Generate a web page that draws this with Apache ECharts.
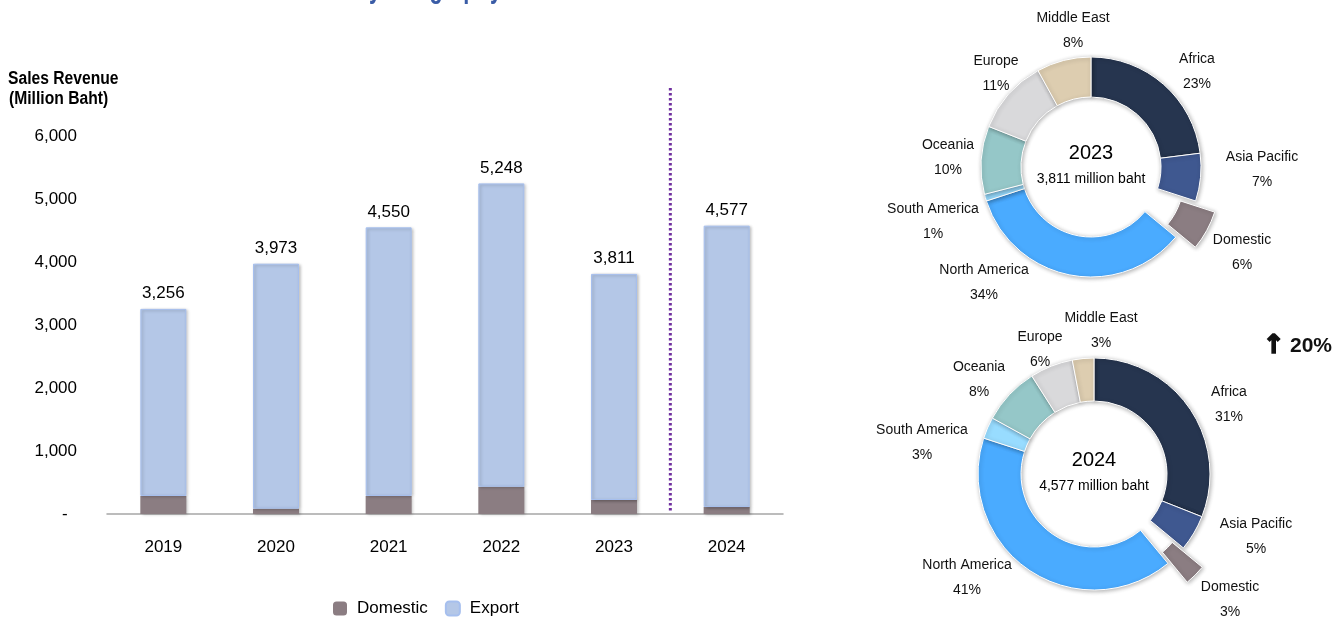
<!DOCTYPE html>
<html><head><meta charset="utf-8">
<script src="https://cdn.jsdelivr.net/npm/echarts@6/dist/echarts.min.js"></script>
<style>html,body{margin:0;padding:0;background:#fff}#c{width:1336px;height:619px}</style>
</head><body><div id="c"></div>
<script>
// ---- data ----
const years = ['2019', '2020', '2021', '2022', '2023', '2024'];
const totalRevenue = [3256, 3973, 4550, 5248, 3811, 4577];
const domesticRevenue = [286, 85, 286, 433, 222, 110];
const exportRevenue = [2970, 3888, 4264, 4815, 3589, 4467];
const yTicks = [0, 1000, 2000, 3000, 4000, 5000, 6000];

const regions = ['Africa', 'Asia Pacific', 'Domestic', 'North America', 'South America', 'Oceania', 'Europe', 'Middle East'];
const share2023 = [23, 7, 6, 34, 1, 10, 11, 8];
const share2024 = [31, 5, 3, 41, 3, 8, 6, 3];

// ---- styles / layout ----
const FONT = '"Liberation Sans", Arial, sans-serif';
const regionColors = ['#26354F', '#3F5890', '#8B7D82', '#4AABFF', '#98DCFF', '#95C7C8', '#D9D9DB', '#DDCDB0'];
const EXPLODED = 'Domestic';
// label centres relative to each donut centre (text placement only)
const labelPlacement2023 = [[106, -95], [171, 3], [151, 86], [-107, 116], [-158, 55], [-143, -9], [-95, -93], [-18, -136]];
const labelPlacement2024 = [[135, -69], [162, 63], [136, 126], [-127, 104], [-172, -31], [-115, -94], [-54, -124], [7, -143]];
const pies = [
  { year: '2023', shares: share2023, total: totalRevenue[4], cx: 1091, cy: 167, r: [70, 110], offset: 25, place: labelPlacement2023 },
  { year: '2024', shares: share2024, total: totalRevenue[5], cx: 1094, cy: 474, r: [73, 116], offset: 30, place: labelPlacement2024 }
];

function fmt(n) { return n.toLocaleString('en-US'); }

function pieLabelLayout(p) {
  return function (params) {
    const d = p.place[params.dataIndex];
    return { x: p.cx + d[0], y: p.cy + d[1], align: 'center', verticalAlign: 'middle' };
  };
}

const sliceShadow = { shadowBlur: 4, shadowColor: 'rgba(0,0,0,0.3)', shadowOffsetX: 1, shadowOffsetY: 1 };
const pieSeries = [];
pies.forEach(p => {
  // main ring (exploded slice left transparent, its label kept)
  pieSeries.push({
    type: 'pie', center: [p.cx, p.cy], radius: p.r, startAngle: 90, clockwise: true,
    legendHoverLink: false, selectedMode: false,
    data: regions.map((n, i) => ({
      name: n, value: p.shares[i],
      itemStyle: n === EXPLODED ? { color: 'rgba(0,0,0,0)', borderWidth: 0, shadowBlur: 0, shadowColor: 'rgba(0,0,0,0)' }
                                : { color: regionColors[i] }
    })),
    itemStyle: Object.assign({ borderColor: '#fff', borderWidth: 1 }, sliceShadow),
    label: {
      show: true, position: 'outside', color: '#111', fontFamily: FONT, fontSize: 14, lineHeight: 25,
      formatter: q => q.name + '\n' + q.value + '%'
    },
    labelLine: { show: false },
    labelLayout: pieLabelLayout(p),
    emphasis: { disabled: true }
  });
  // exploded slice: same ring shifted outward along the slice's mid-angle
  const sum = p.shares.reduce((a, b) => a + b, 0);
  const k = regions.indexOf(EXPLODED);
  let cum = 0;
  for (let j = 0; j < k; j++) cum += p.shares[j];
  const mid = (cum + p.shares[k] / 2) / sum * 2 * Math.PI;
  pieSeries.push({
    type: 'pie', center: [p.cx + p.offset * Math.sin(mid), p.cy - p.offset * Math.cos(mid)],
    radius: [p.r[0] + 1, p.r[1] - 3], startAngle: 90, clockwise: true,
    legendHoverLink: false, selectedMode: false, silent: true,
    data: regions.map((n, i) => ({
      name: n, value: p.shares[i],
      itemStyle: n === EXPLODED ? Object.assign({ color: regionColors[i], borderColor: '#fff', borderWidth: 1 }, sliceShadow)
                                : { color: 'rgba(0,0,0,0)', borderWidth: 0 }
    })),
    label: { show: false }, labelLine: { show: false },
    emphasis: { disabled: true }
  });
});

const growth = Math.round((totalRevenue[5] / totalRevenue[4] - 1) * 100);

const graphics = [
  { type: 'text', x: 502, y: -11.5, scaleX: 0.68, style: { text: 'Sales Revenue by Geography', fill: '#3A5CA6', font: 'bold 32px ' + FONT, align: 'right', verticalAlign: 'middle' } },
  { type: 'text', x: 8, y: 70, scaleX: 0.87, style: { text: 'Sales Revenue', fill: '#000', font: 'bold 18px ' + FONT, verticalAlign: 'top' } },
  { type: 'text', x: 9, y: 90, scaleX: 0.87, style: { text: '(Million Baht)', fill: '#000', font: 'bold 18px ' + FONT, verticalAlign: 'top' } },
  { type: 'text', x: 1263, y: 346, style: { text: '\u2191', fill: '#111', stroke: '#111', lineWidth: 1.6, font: 'bold 26px "DejaVu Sans", sans-serif', verticalAlign: 'middle' } },
  { type: 'text', x: 1290, y: 346, style: { text: growth + '%', fill: '#111', font: 'bold 21px ' + FONT, verticalAlign: 'middle' } }
];
pies.forEach(p => {
  graphics.push({ type: 'text', x: p.cx, y: p.cy - 14, style: { text: p.year, fill: '#000', font: '20px ' + FONT, align: 'center', verticalAlign: 'middle' } });
  graphics.push({ type: 'text', x: p.cx, y: p.cy + 12, style: { text: fmt(p.total) + ' million baht', fill: '#000', font: '14px ' + FONT, align: 'center', verticalAlign: 'middle' } });
});

const chart = echarts.init(document.getElementById('c'), null, { renderer: 'canvas' });
const option = {
  animation: false,
  backgroundColor: '#fff',
  textStyle: { fontFamily: FONT },
  grid: { left: 107, right: 553, top: 136, bottom: 105, containLabel: false },
  legend: {
    data: ['Domestic', 'Export'], left: 328, top: 595, itemWidth: 14, itemHeight: 14, itemGap: 17,
    textStyle: { fontSize: 17, color: '#000', fontFamily: FONT, padding: [0, 0, 0, 5] },
    selectedMode: false
  },
  xAxis: {
    type: 'category', data: years,
    axisLine: { lineStyle: { color: '#A6A6A6', width: 1.5 } },
    axisTick: { show: false },
    axisLabel: { color: '#000', fontSize: 17, margin: 25, fontFamily: FONT }
  },
  yAxis: {
    type: 'value', min: yTicks[0], max: yTicks[yTicks.length - 1], interval: 1000,
    axisLine: { show: false }, axisTick: { show: false }, splitLine: { show: false },
    axisLabel: { color: '#000', fontSize: 17, margin: 30, fontFamily: FONT,
      formatter: v => v === 0 ? '-  ' : fmt(v) }
  },
  series: [
    { name: 'Domestic', type: 'bar', stack: 'rev', barWidth: 46, data: domesticRevenue,
      itemStyle: { color: '#8B7D82', shadowBlur: 3, shadowColor: 'rgba(0,0,0,0.25)', shadowOffsetX: 1.5, shadowOffsetY: 1 },
      emphasis: { disabled: true } },
    { name: 'Export', type: 'bar', stack: 'rev', barWidth: 46, data: exportRevenue,
      itemStyle: { color: '#B4C7E7', borderColor: '#A6BFEE', borderWidth: 1, shadowBlur: 3, shadowColor: 'rgba(0,0,0,0.25)', shadowOffsetX: 1.5, shadowOffsetY: 1 },
      label: { show: true, position: 'top', distance: 7, color: '#000', fontSize: 17, fontFamily: FONT,
        formatter: q => fmt(totalRevenue[q.dataIndex]) },
      emphasis: { disabled: true } }
  ].concat(pieSeries),
  graphic: graphics
};
chart.setOption(option);

// dotted separator between 2023 and 2024
const xa = chart.convertToPixel({ xAxisIndex: 0 }, years[4]);
const xb = chart.convertToPixel({ xAxisIndex: 0 }, years[5]);
const y0 = chart.convertToPixel({ yAxisIndex: 0 }, 0);
chart.setOption({
  graphic: [{ id: 'sep', type: 'line', shape: { x1: (xa + xb) / 2, y1: 88, x2: (xa + xb) / 2, y2: y0 - 1 },
    style: { stroke: '#7030A0', lineWidth: 3, lineDash: [2.5, 2.5] }, z: 10 }]
});
</script>
</body></html>
